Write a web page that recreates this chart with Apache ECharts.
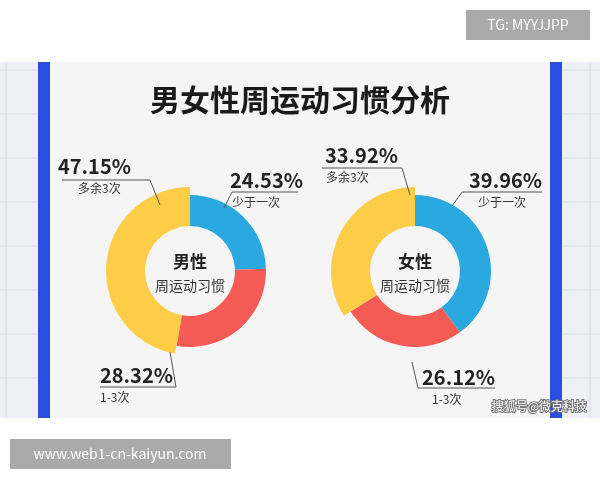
<!DOCTYPE html><html><head><meta charset="utf-8"><script src="https://cdn.jsdelivr.net/npm/echarts@6/dist/echarts.min.js"></script>
<style>html,body{margin:0;padding:0;background:#fff}#c{width:600px;height:480px}</style></head><body><div id="c"></div><script>
const categories=['少于一次','1-3次','多余3次'];
const maleValues=[24.53,28.32,47.15];
const femaleValues=[39.96,26.12,33.92];
const colors=['#2aa8e0','#f55b55','#fdcd47'];
const F='"Noto Sans CJK SC","Noto Sans",sans-serif';
const chart=echarts.init(document.getElementById('c'));
function donut(vals,cx){
  const base={type:'pie',center:[cx,271],startAngle:90,clockwise:true,silent:true,label:{show:false},labelLine:{show:false}};
  return [
    Object.assign({},base,{radius:[45,76],data:vals.map((v,i)=>({name:categories[i],value:v,itemStyle:{color:i<2?colors[i]:'transparent'}}))}),
    Object.assign({},base,{radius:[45,84],data:vals.map((v,i)=>({name:categories[i],value:v,itemStyle:{color:i==2?colors[2]:'transparent'}}))})
  ];
}
const back=[],g=[];
back.push({type:'rect',shape:{x:0,y:62,width:600,height:356},style:{fill:'#eef0f6'}});
for(let y=70;y<418;y+=44){back.push({type:'line',shape:{x1:0,y1:y,x2:38,y2:y},style:{stroke:'#d8dbe6'}});back.push({type:'line',shape:{x1:562,y1:y,x2:600,y2:y},style:{stroke:'#d8dbe6'}});}
back.push({type:'line',shape:{x1:6,y1:62,x2:6,y2:418},style:{stroke:'#d8dbe6'}});
back.push({type:'line',shape:{x1:590,y1:62,x2:590,y2:418},style:{stroke:'#d8dbe6'}});
back.push({type:'rect',shape:{x:38,y:62,width:12,height:356},style:{fill:'#2a4fe0'}});
back.push({type:'rect',shape:{x:550,y:62,width:12,height:356},style:{fill:'#2a4fe0'}});
back.push({type:'rect',shape:{x:50,y:62,width:500,height:356},style:{fill:'#f5f5f5'}});
g.push({type:'text',x:300,y:100,style:{text:'男女性周运动习惯分析',font:'bold 30px '+F,fill:'#1a1a1a',textAlign:'center',textVerticalAlign:'middle'}});
function lbl(pct,name,tx,ty,nx,pts,align){
  g.push({type:'text',x:tx,y:ty,style:{text:pct,font:'bold 20px '+F,fill:'#222',textAlign:align,textVerticalAlign:'middle'}});
  g.push({type:'text',x:nx,y:ty+22,style:{text:name,font:'12px '+F,fill:'#333',textAlign:'left',textVerticalAlign:'middle'}});
  g.push({type:'polyline',shape:{points:pts},style:{stroke:'#555',lineWidth:1,fill:null}});
}
lbl(maleValues[2].toFixed(2)+'%',categories[2],58,166,78,[[62,180],[150,180],[160,205]],'left');
lbl(maleValues[0].toFixed(2)+'%',categories[0],230,180,232,[[298,192],[232,192],[224,208]],'left');
lbl(maleValues[1].toFixed(2)+'%',categories[1],100,375,100,[[100,387],[176,387],[170,352]],'left');
lbl(femaleValues[2].toFixed(2)+'%',categories[2],325,155,326,[[322,168],[402,168],[410,195]],'left');
lbl(femaleValues[0].toFixed(2)+'%',categories[0],542,180,478,[[542,192],[462,192],[452,206]],'right');
lbl(femaleValues[1].toFixed(2)+'%',categories[1],495,377,432,[[495,388],[418,388],[412,362]],'right');
[[190,'男性'],[415,'女性']].forEach(([x,t])=>{
  g.push({type:'text',x:x,y:262,style:{text:t,font:'bold 17px '+F,fill:'#222',textAlign:'center',textVerticalAlign:'middle'}});
  g.push({type:'text',x:x,y:286,style:{text:'周运动习惯',font:'14px '+F,fill:'#333',textAlign:'center',textVerticalAlign:'middle'}});
});
g.push({type:'text',x:587,y:406,style:{text:'搜狐号@微克科技',font:'12px '+F,fill:'#fff',stroke:'#777',lineWidth:2,textAlign:'right',textVerticalAlign:'middle'}});
g.push({type:'rect',shape:{x:466,y:10,width:124,height:30},style:{fill:'#aaaaaa'}});
g.push({type:'text',x:528,y:25,style:{text:'TG: MYYJJPP',font:'14px '+F,fill:'#fff',textAlign:'center',textVerticalAlign:'middle'}});
g.push({type:'rect',shape:{x:10,y:439,width:221,height:30},style:{fill:'#aaaaaa'}});
g.push({type:'text',x:120,y:454,style:{text:'www.web1-cn-kaiyun.com',font:'14px '+F,fill:'#fff',textAlign:'center',textVerticalAlign:'middle'}});
chart.setOption({animation:false,
  graphic:{elements:[...back.map(e=>Object.assign({z:-10},e)),...g.map(e=>Object.assign({z:10},e))]},
  series:[...donut(maleValues,190),...donut(femaleValues,415)]});
</script></body></html>
